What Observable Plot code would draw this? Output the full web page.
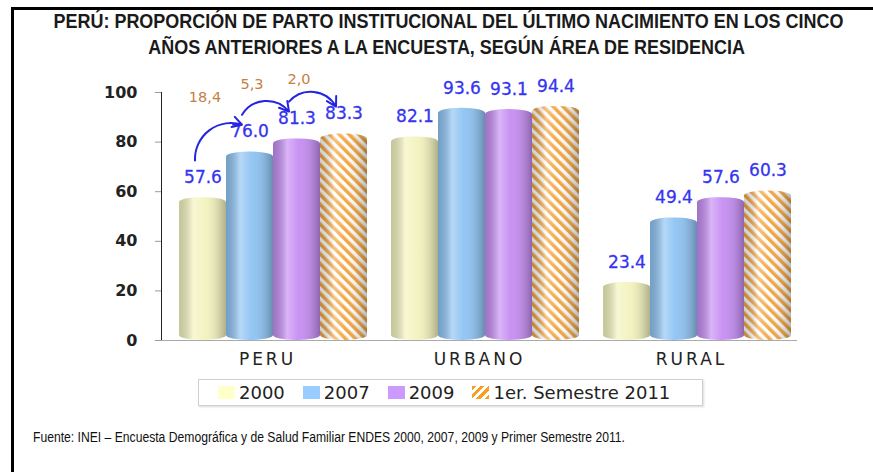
<!DOCTYPE html>
<html><head><meta charset="utf-8">
<script src="https://cdn.jsdelivr.net/npm/d3@7"></script>
<script src="https://cdn.jsdelivr.net/npm/@observablehq/plot@0.6"></script>
<style>
body{margin:0;background:#fff;width:873px;height:472px;overflow:hidden;position:relative;font-family:"DejaVu Sans",sans-serif}
#frame{position:absolute;left:11px;top:7px;width:870px;height:470px;border-left:3px solid #000;border-top:3px solid #000}
#title{position:absolute;left:20px;width:854px;top:8px;text-align:center;font:bold 19.5px/26px "Liberation Sans",Arial,sans-serif;color:#1a1a1a;white-space:nowrap}
#title span{display:inline-block;transform-origin:50% 50%}
#chart{position:absolute;left:0;top:62px}
#legend{position:absolute;left:198px;top:379px;width:505px;height:27px;border:1px solid #d0d0d0;box-shadow:1px 1px 2px rgba(0,0,0,.15);display:flex;align-items:center;padding-left:19px;box-sizing:border-box;font:18px "DejaVu Sans",sans-serif;color:#222}
.item{display:flex;align-items:center;margin-right:18px}
.sw{width:17px;height:13px;margin-right:4px}
#caption{position:absolute;left:33px;top:429px;font:14px "Liberation Sans",Arial,sans-serif;color:#111;white-space:nowrap;transform-origin:0 50%}
</style></head>
<body>
<div id="frame"></div>
<div id="title"><span id="t1">PERÚ: PROPORCIÓN DE PARTO INSTITUCIONAL DEL ÚLTIMO NACIMIENTO EN LOS CINCO</span><br><span id="t2">AÑOS ANTERIORES A LA ENCUESTA, SEGÚN ÁREA DE RESIDENCIA</span></div>
<div id="chart"></div>
<div id="legend"></div>
<div id="caption">Fuente: INEI – Encuesta Demográfica y de Salud Familiar ENDES 2000, 2007, 2009 y Primer Semestre 2011.</div>
<script>
const groups = ["PERU", "URBANO", "RURAL"];
const years = ["2000", "2007", "2009", "1er. Semestre 2011"];
const v2000 = [57.6, 82.1, 23.4];
const v2007 = [76.0, 93.6, 49.4];
const v2009 = [81.3, 93.1, 57.6];
const v2011 = [83.3, 94.4, 60.3];
const peruDeltas = ["18,4", "5,3", "2,0"];
const yTicks = [0, 20, 40, 60, 80, 100];

const series = [v2000, v2007, v2009, v2011];
const barColors = ["#F3F3BE", "#8DC3F3", "#C58CF2", "url(#hatch)"];
const legendColors = ["#FFFFCC", "#99CCFF", "#CC99FF", "repeating-linear-gradient(135deg,#F5A020 0 3px,#fff 3px 6px)"];

const rows = groups.flatMap((g, i) => years.map((y, j) => ({group: g, year: y, value: series[j][i]})));
const arrows = peruDeltas.map((d, k) => ({
  group: "PERU", from: years[k], to: years[k + 1],
  vFrom: series[k][0], vTo: series[k + 1][0], label: d
}));

const chart = Plot.plot({
  width: 873, height: 308,
  marginLeft: 160, marginRight: 76, marginTop: 30, marginBottom: 30,
  style: {fontFamily: "DejaVu Sans", fontSize: "16px", fontWeight: "bold", color: "#222", overflow: "visible", background: "transparent"},
  fx: {domain: groups, padding: 0, axis: "bottom", label: null, tickSize: 0, tickPadding: 12},
  x: {domain: years, paddingInner: 0, paddingOuter: 0.25, axis: null},
  y: {domain: [0, 100], ticks: yTicks, tickSize: 6, tickPadding: 18, line: true, label: null},
  color: {domain: years, range: barColors},
  marks: [
    Plot.ruleY([0], {stroke: "#aaa"}),
    Plot.barY(rows, {fx: "group", x: "year", y: "value", fill: "year", rx: 23, ry: 5, dx: 6}),
    Plot.barY(rows, {fx: "group", x: "year", y: "value", fill: "url(#shade)", rx: 23, ry: 5, dx: 6}),
    Plot.text(rows, {fx: "group", x: "year", y: "value", text: d => d.value.toFixed(1), dy: -20, dx: 6, fill: "#3535F0", fontSize: 17, fontWeight: "normal", stroke: "#3535F0", strokeWidth: 0.3}),
    Plot.arrow(arrows, {fx: "group", x1: "from", x2: "to", y1: d => d.vFrom + 15, y2: d => d.vTo + 11, bend: 55, stroke: "#2525E0", strokeWidth: 2, headLength: 8, dx: -2}),
    Plot.text(arrows, {fx: "group", x: "from", y: d => d.vTo + 22, text: "label", dx: 8, fill: "#C47F45", fontSize: 14.5, fontWeight: "normal"})
  ]
});

const s = d3.select(chart);
const defs = s.insert("defs", ":first-child");
const pat = defs.append("pattern").attr("id", "hatch").attr("patternUnits", "userSpaceOnUse")
  .attr("width", 7).attr("height", 7).attr("patternTransform", "rotate(-45)");
pat.append("rect").attr("width", 7).attr("height", 7).attr("fill", "#fff");
pat.append("rect").attr("width", 3.5).attr("height", 7).attr("fill", "#F2A23A");
const sh = defs.append("linearGradient").attr("id", "shade").attr("x1", 0).attr("x2", 1).attr("y1", 0).attr("y2", 0);
[[0, "#000", 0.18], [0.3, "#fff", 0.35], [0.55, "#fff", 0.05], [1, "#000", 0.28]].forEach(([o, c, a]) =>
  sh.append("stop").attr("offset", o).attr("stop-color", c).attr("stop-opacity", a));

s.selectAll('[aria-label^="fx-axis"] text').style("font-weight", "normal").style("letter-spacing", "3px").style("font-size", "17px");
s.selectAll('[aria-label^="y-axis"] line, [aria-label^="y-axis"] path').attr("stroke", "#999");

document.getElementById("chart").appendChild(chart);

const lg = d3.select("#legend");
years.forEach((y, j) => {
  const it = lg.append("div").attr("class", "item");
  it.append("div").attr("class", "sw").style("background", legendColors[j]);
  it.append("span").text(y);
});

// horizontal condensation of title and caption to mimic the narrow typeface
const t1 = document.getElementById("t1"), t2 = document.getElementById("t2");
const k = 790 / t1.getBoundingClientRect().width;
t1.style.transform = t2.style.transform = `scaleX(${k})`;
const cap = document.getElementById("caption");
cap.style.transform = `scaleX(${592 / cap.getBoundingClientRect().width})`;
</script>
</body></html>
